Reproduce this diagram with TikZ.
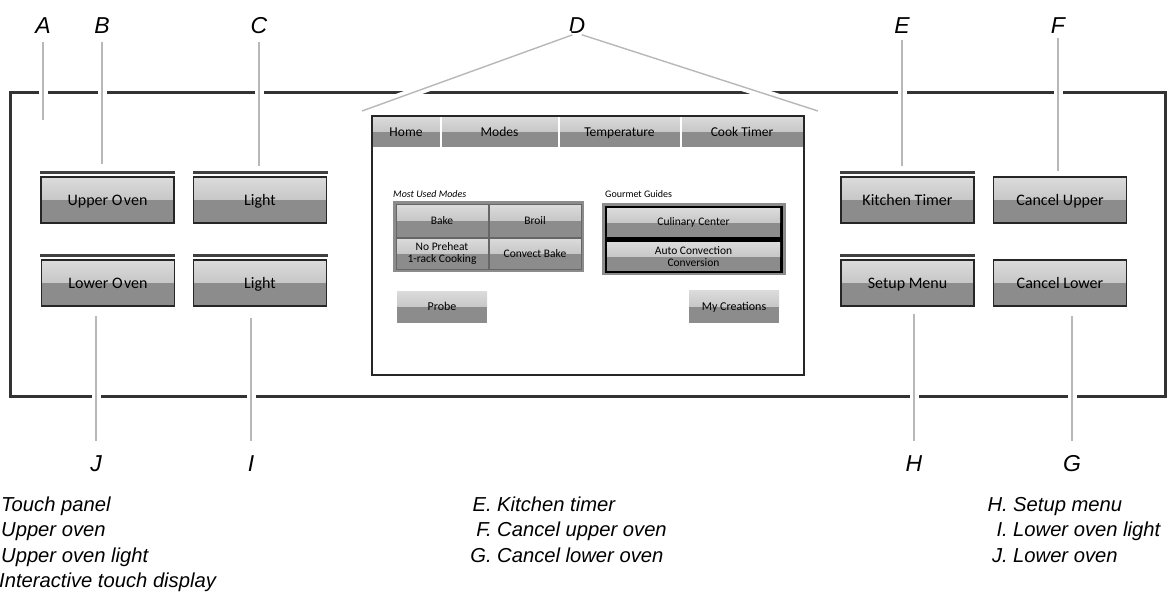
\documentclass[tikz,border=0pt]{standalone}
\usepackage{fontspec}
\usepackage{graphicx}
\setmainfont{Liberation Sans}
\newfontfamily\uifont{Carlito}
\begin{document}
\begin{tikzpicture}[x=1pt,y=-1pt,
  lbl/.style={font=\fontsize{23}{23}\selectfont\itshape, inner sep=0pt, anchor=base},
  leg/.style={font=\fontsize{20.2}{20}\selectfont\itshape, inner sep=0pt, anchor=base west},
  legk/.style={font=\fontsize{20.2}{20}\selectfont\itshape, inner sep=0pt, anchor=base east},
  leader/.style={draw=black!28, line width=1.8pt, preaction={draw=white, line width=9pt}},
  halfshade/.style={path picture={
    \shade[top color=black!14, bottom color=black!30] (path picture bounding box.north west) rectangle (path picture bounding box.east);
    \fill[black!45] (path picture bounding box.west) rectangle (path picture bounding box.south east);}},
  btn/.style={halfshade, draw=black!85, line width=1.4pt, minimum width=133pt, minimum height=46pt, inner sep=0pt, text height=11pt, text depth=0pt, font=\uifont\fontsize{16}{16}\selectfont},
  bar/.style={fill=black!75},
  tab/.style={halfshade, draw=white, line width=1pt, minimum height=31pt, inner sep=0pt, text height=9pt, text depth=0pt, font=\uifont\fontsize{13.5}{14}\selectfont},
  cell/.style={halfshade, draw=black!60, line width=0.8pt, minimum width=92pt, inner sep=0pt, align=center, font=\uifont\fontsize{11.5}{12}\selectfont},
  gbtn/.style={halfshade, minimum width=173pt, minimum height=29pt, inner sep=0pt, align=center, font=\uifont\fontsize{11.5}{11.5}\selectfont},
  small/.style={halfshade, minimum width=90pt, minimum height=32pt, inner sep=0pt, text height=8pt, text depth=1pt, font=\uifont\fontsize{12}{12}\selectfont},
  grouptitle/.style={inner sep=0pt, anchor=base west, font=\uifont\fontsize{10}{10}\selectfont}
]
\useasboundingbox (0,0) rectangle (1171,595);

% panel
\node[draw=black!80, line width=3pt, minimum width=1155pt, minimum height=304pt, inner sep=0pt] (panel) at (587.5,244) {};

% bars
\fill[bar] (40,171) rectangle (175,174);
\fill[bar] (193,171) rectangle (328,174);
\fill[bar] (40,254) rectangle (175,257);
\fill[bar] (193,254) rectangle (328,257);
\fill[bar] (840,171) rectangle (975,174);
\fill[bar] (840,254) rectangle (975,257);

% buttons
\node[btn] (upper) at (107.5,200) {Upper O\kern1.5pt ven};
\node[btn] (light1) at (260,200) {Light};
\node[btn] (lower) at (108,283) {Lower O\kern1.5pt ven};
\node[btn] (light2) at (260,283) {Light};
\node[btn] (ktimer) at (907.5,200) {Kitchen Timer};
\node[btn] (cupper) at (1060,200) {Cancel Upper};
\node[btn] (setup) at (907.5,283) {Setup Menu};
\node[btn] (clower) at (1060,283) {Cancel Lower};

% display
\node[tab, minimum width=68pt] (thome) at (406,131.5) {Home};
\node[tab, minimum width=117pt] (tmodes) at (499.5,131.5) {Modes};
\node[tab, minimum width=121pt] (ttemp) at (619.5,131.5) {Temperature};
\node[tab, minimum width=122pt] (tcook) at (742,131.5) {Cook Timer};
\node[draw=black!85, line width=1.8pt, minimum width=432pt, minimum height=259pt, inner sep=0pt] (disp) at (588,245.5) {};

\node[grouptitle, font=\uifont\itshape\fontsize{10}{10}\selectfont] (mumt) at (393,197) {Most Used Modes};
\node[grouptitle] (ggt) at (605,197) {Gourmet Guides};

\node[fill=black!45, minimum width=191pt, minimum height=71pt, inner sep=0pt] (mum) at (488.5,236.5) {};
\node[cell, minimum height=33pt] (bake) at (442,220.5) {Bake};
\node[cell, minimum height=33pt] (broil) at (535,220.5) {Broil};
\node[cell, minimum height=31pt] (nopre) at (442,253.5) {No Preheat\\1-rack Cooking};
\node[cell, minimum height=31pt] (convect) at (535,253.5) {Convect Bake};

\node[fill=black!45, minimum width=184pt, minimum height=72pt, inner sep=0pt] (gg) at (694,239) {};
\node[fill=black, minimum width=178pt, minimum height=67pt, inner sep=0pt] (ggin) at (694,239.5) {};
\node[gbtn] (culinary) at (693.5,222.5) {Culinary Center};
\node[gbtn] (autoconv) at (693.5,256.5) {Auto Convection\\Conversion};

\node[small] (probe) at (442,307) {Probe};
\node[small] (mycre) at (734,306.5) {My Creations};

% callout letters
\node[lbl] (lA) at (43,33) {A};
\node[lbl] (lB) at (102,33) {B};
\node[lbl] (lC) at (259,33) {C};
\node[lbl] (lD) at (577,33) {D};
\node[lbl] (lE) at (902,33) {E};
\node[lbl] (lF) at (1058,33) {F};
\node[lbl] (lJ) at (96,471) {J};
\node[lbl] (lI) at (251,471) {I};
\node[lbl] (lH) at (914,471) {H};
\node[lbl] (lG) at (1072,471) {G};

\coordinate (eA) at (43,120);
\coordinate (eB) at (102,164);
\coordinate (eC) at (259,166);
\coordinate (eE) at (902,166);
\coordinate (eF) at (1058,171);
\coordinate (dL) at (362,111);
\coordinate (dR) at (818,111);
\coordinate (eJ) at (96,316);
\coordinate (eI) at (251,318);
\coordinate (eH) at (914,314);
\coordinate (eG) at (1072,316);

\draw[leader, shorten <=9pt] (lA.south) -- (eA);
\draw[leader, shorten <=9pt] (lB.south) -- (eB);
\draw[leader, shorten <=9pt] (lC.south) -- (eC);
\draw[leader, shorten <=7pt] (lE.south) -- (eE);
\draw[leader, shorten <=5pt] (lF.south) -- (eF);
\draw[leader, line width=1.4pt, shorten <=5pt] (lD.south) -- (dL);
\draw[leader, line width=1.4pt, shorten <=5pt] (lD.south) -- (dR);
\draw[leader, shorten >=14pt] (eJ) -- (lJ.north);
\draw[leader, shorten >=14pt] (eI) -- (lI.north);
\draw[leader, shorten >=14pt] (eH) -- (lH.north);
\draw[leader, shorten >=14pt] (eG) -- (lG.north);

% legend
\node[leg] (t1) at (1,511) {Touch panel};
\node[leg] (t2) at (1,536.5) {Upper oven};
\node[leg] (t3) at (1,562) {Upper oven light};
\node[leg] (t4) at (-1,587.5) {Interactive touch display};

\node[legk] (kE) at (492,511) {E.};
\node[leg] (tE) at (497,511) {Kitchen timer};
\node[legk] (kF) at (492,536.5) {F.};
\node[leg] (tF) at (497,536.5) {Cancel upper oven};
\node[legk] (kG) at (492,562) {G.};
\node[leg] (tG) at (497,562) {Cancel lower oven};

\node[legk] (kH) at (1008,511) {H.};
\node[leg] (tH) at (1013,511) {Setup menu};
\node[legk] (kI) at (1008,536.5) {I.};
\node[leg] (tI) at (1013,536.5) {Lower oven light};
\node[legk] (kJ) at (1008,562) {J.};
\node[leg] (tJ) at (1013,562) {Lower oven};
\end{tikzpicture}
\end{document}
